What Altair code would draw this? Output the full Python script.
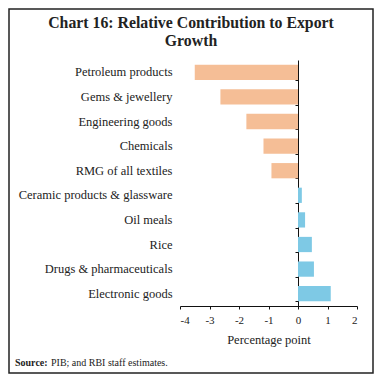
import altair as alt
import pandas as pd

categories = ["Petroleum products", "Gems & jewellery", "Engineering goods", "Chemicals",
              "RMG of all textiles", "Ceramic products & glassware", "Oil meals", "Rice",
              "Drugs & pharmaceuticals", "Electronic goods"]
values = [-3.5, -2.63, -1.75, -1.17, -0.9, 0.13, 0.24, 0.47, 0.54, 1.11]
x_ticks = [-4, -3, -2, -1, 0, 1, 2]
title_lines = ["Chart 16: Relative Contribution to Export", "Growth"]
source_bold = "Source:"
source_text = "PIB; and RBI staff estimates."

df = pd.DataFrame({"category": categories, "value": values})
one = pd.DataFrame({"a": [0]})

FONT = "Liberation Serif"
W, H = 177, 246

yscale = alt.Scale(paddingInner=0.38, paddingOuter=0.19)

bars = alt.Chart(df).mark_bar().encode(
    x=alt.X("value:Q", scale=alt.Scale(domain=[-4, 2], nice=False),
            axis=alt.Axis(values=x_ticks, title="Percentage point", grid=False, tickSize=3,
                          labelExpr="datum.value + ''",
                          labelPadding=5, titlePadding=8, labelFontSize=11, titleFontSize=12.5,
                          titleFontWeight="normal", domainColor="#111", tickColor="#111",
                          labelColor="#222", titleColor="#222")),
    y=alt.Y("category:N", sort=categories, scale=yscale,
            axis=alt.Axis(title=None, domain=False, ticks=False, labelPadding=8,
                          labelFontSize=12.5, labelColor="#222", labelLimit=300)),
    color=alt.condition(alt.datum.value < 0, alt.value("#F5BE96"), alt.value("#7EC9E5")),
)

zero_axis = alt.Chart(df).mark_point(opacity=0).encode(
    y=alt.Y("category:N", sort=categories, scale=yscale,
            axis=alt.Axis(title=None, labels=False, tickBand="extent", tickSize=3,
                          offset=-118, orient="left", domainColor="#111", tickColor="#111",
                          grid=False)),
)

frame = alt.Chart(one).mark_rect(fill="transparent", stroke="#222", strokeWidth=1.5).encode(
    x=alt.value(-171), x2=alt.value(193), y=alt.value(-51), y2=alt.value(313)
)

t1 = alt.Chart(one).mark_text(text=title_lines[0], font=FONT, fontSize=15.8, fontWeight="bold",
                              color="#222", align="center", baseline="alphabetic").encode(
    x=alt.value(11), y=alt.value(-32))
t2 = alt.Chart(one).mark_text(text=title_lines[1], font=FONT, fontSize=15.8, fontWeight="bold",
                              color="#222", align="center", baseline="alphabetic").encode(
    x=alt.value(11), y=alt.value(-14))
s1 = alt.Chart(one).mark_text(text=source_bold, font=FONT, fontSize=10, fontWeight="bold",
                              color="#222", align="left", baseline="alphabetic").encode(
    x=alt.value(-165), y=alt.value(306))
s2 = alt.Chart(one).mark_text(text=source_text, font=FONT, fontSize=10,
                              color="#222", align="left", baseline="alphabetic").encode(
    x=alt.value(-129), y=alt.value(306))

chart = alt.layer(bars, zero_axis, frame, t1, t2, s1, s2).resolve_axis(y="independent").properties(
    width=W, height=H,
    autosize=alt.AutoSizeParams(type="none"),
    padding={"left": 172, "top": 52, "right": 17, "bottom": 68},
).configure_view(stroke=None).configure_axis(labelFont=FONT, titleFont=FONT)

chart.save("out.html", embed_options={"renderer": "svg", "actions": False})
